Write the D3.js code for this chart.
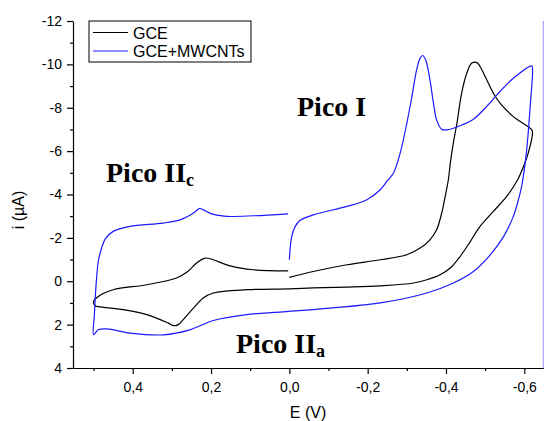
<!DOCTYPE html>
<html>
<head>
<meta charset="utf-8">
<script src="https://cdn.jsdelivr.net/npm/d3@7"></script>
<style>
  body { margin: 0; background: #fff; }
  svg { display: block; }
</style>
</head>
<body>
<svg id="chart" width="544" height="421"></svg>
<script>
// ---------- data (E in V, i in µA) ----------
const seriesNames = ["GCE", "GCE+MWCNTs"];
const seriesColors = ["#000000", "#1a1aff"];

const gceE = [0.0, -0.061, -0.147, -0.232, -0.30, -0.334, -0.359, -0.376, -0.389, -0.398, -0.406, -0.411, -0.419, -0.428, -0.440, -0.453, -0.466, -0.479, -0.487, -0.504, -0.521, -0.538, -0.572, -0.619,
  -0.621, -0.610, -0.598, -0.583, -0.555, -0.521, -0.487, -0.462, -0.436, -0.411, -0.385, -0.351, -0.317, -0.232, -0.147, -0.061, 0.0, 0.109, 0.194, 0.220, 0.245, 0.271, 0.284, 0.295, 0.309, 0.364, 0.424, 0.492, 0.496,
  0.500, 0.488, 0.450, 0.364, 0.288, 0.262, 0.237, 0.215, 0.194, 0.151, 0.092, 0.003];
const gceI = [-0.18, -0.45, -0.76, -0.99, -1.22, -1.53, -1.91, -2.37, -3.14, -3.91, -4.68, -5.45, -6.40, -7.29, -8.67, -9.59, -10.06, -10.08, -9.90, -9.29, -8.67, -8.21, -7.59, -6.98,
  -6.83, -5.91, -5.29, -4.68, -3.91, -3.22, -2.53, -1.83, -1.14, -0.61, -0.30, -0.07, 0.08, 0.21, 0.27, 0.31, 0.35, 0.39, 0.54, 0.77, 1.24, 1.77, 2.00, 2.05, 1.93, 1.54, 1.31, 1.16, 1.13,
  0.93, 0.70, 0.39, 0.16, -0.15, -0.41, -0.84, -1.07, -0.99, -0.71, -0.53, -0.48];

const mwE = [0.0, -0.006, -0.015, -0.027, -0.061, -0.147, -0.198, -0.232, -0.249, -0.266, -0.283, -0.300, -0.313, -0.325, -0.334, -0.340, -0.348, -0.359, -0.368, -0.376, -0.389, -0.402, -0.436, -0.470, -0.504, -0.538, -0.572, -0.619,
  -0.621, -0.615, -0.606, -0.594, -0.585, -0.572, -0.547, -0.513, -0.470, -0.419, -0.351, -0.232, -0.104, 0.024, 0.109, 0.194, 0.254, 0.322, 0.407, 0.466, 0.488, 0.500,
  0.498, 0.496, 0.492, 0.488, 0.480, 0.470, 0.450, 0.407, 0.322, 0.279, 0.254, 0.238, 0.229, 0.224, 0.214, 0.200, 0.185, 0.160, 0.092, 0.003];
const mwI = [-0.99, -2.06, -2.53, -2.80, -3.06, -3.45, -3.76, -4.22, -4.60, -4.99, -5.91, -7.29, -8.52, -9.75, -10.29, -10.41, -10.21, -9.29, -8.21, -7.44, -7.01, -6.98, -7.17, -7.47, -8.06, -8.75, -9.36, -9.93,
  -9.75, -8.06, -6.06, -4.45, -3.76, -2.99, -2.06, -1.22, -0.45, 0.08, 0.54, 1.00, 1.24, 1.42, 1.54, 1.81, 2.24, 2.47, 2.39, 2.20, 2.24, 2.47,
  1.60, 0.85, -0.20, -0.90, -1.50, -1.95, -2.30, -2.53, -2.68, -2.83, -3.04, -3.24, -3.36, -3.33, -3.24, -3.12, -3.05, -2.99, -3.02, -3.11];

const xMajorTicks = [0.4, 0.2, 0.0, -0.2, -0.4, -0.6];
const xMinorTicks = [0.5, 0.3, 0.1, -0.1, -0.3, -0.5];
const yMajorTicks = [-12, -10, -8, -6, -4, -2, 0, 2, 4];
const yMinorTicks = [-11, -9, -7, -5, -3, -1, 1, 3];

// ---------- layout ----------
const svg = d3.select("#chart");
const L = 73, R = 543.3, T = 21, B = 368;

const x = d3.scaleLinear().domain([0.5525, -0.6485]).range([L, R]);
const y = d3.scaleLinear().domain([-12, 4]).range([T, B]);

const fmtX = v => d3.format(".1f")(v).replace(".", ",").replace("\u2212", "-");
const fmtY = v => d3.format("d")(v).replace("\u2212", "-");

// right border (light)
svg.append("line").attr("x1", R).attr("x2", R).attr("y1", T).attr("y2", B)
  .attr("stroke", "#a4a4f0").attr("stroke-width", 1.2);

// curves
const line = d3.line().x(d => x(d[0])).y(d => y(d[1])).curve(d3.curveCatmullRom.alpha(0.5));
const gceData = gceE.map((e, k) => [e, gceI[k]]);
const mwData = mwE.map((e, k) => [e, mwI[k]]);
[gceData, mwData].forEach((d, k) => {
  svg.append("path").datum(d).attr("d", line)
    .attr("fill", "none").attr("stroke", seriesColors[k]).attr("stroke-width", 1.2);
});

// axes
svg.append("g").attr("transform", `translate(0,${B})`)
  .call(d3.axisBottom(x).tickValues(xMajorTicks).tickFormat(fmtX).tickSize(6).tickPadding(8).tickSizeOuter(0));
svg.append("g").attr("transform", `translate(0,${B})`)
  .call(d3.axisBottom(x).tickValues(xMinorTicks).tickFormat("").tickSize(3).tickSizeOuter(0))
  .select(".domain").remove();
svg.append("g").attr("transform", `translate(${L},0)`)
  .call(d3.axisLeft(y).tickValues(yMajorTicks).tickFormat(fmtY).tickSize(6).tickPadding(5).tickSizeOuter(0));
svg.append("g").attr("transform", `translate(${L},0)`)
  .call(d3.axisLeft(y).tickValues(yMinorTicks).tickFormat("").tickSize(3).tickSizeOuter(0))
  .select(".domain").remove();

svg.selectAll(".tick text").attr("font-family", "'Liberation Sans', Arial, sans-serif")
  .attr("font-size", 14).attr("fill", "#000");
svg.selectAll(".domain, .tick line").attr("stroke", "#000").attr("stroke-width", 1.2);

// axis titles
svg.append("text").attr("x", 308).attr("y", 418).attr("text-anchor", "middle")
  .attr("font-family", "'Liberation Sans', Arial, sans-serif").attr("font-size", 16)
  .text("E (V)");
svg.append("text").attr("transform", "translate(24,210) rotate(-90)").attr("text-anchor", "middle")
  .attr("font-family", "'Liberation Sans', Arial, sans-serif").attr("font-size", 16)
  .text("i (\u00b5A)");

// legend
const lg = svg.append("g");
lg.append("rect").attr("x", 89).attr("y", 21).attr("width", 162).attr("height", 41)
  .attr("fill", "#fff").attr("stroke", "#000").attr("stroke-width", 1);
seriesNames.forEach((name, k) => {
  const yy = 32.5 + k * 18.5;
  lg.append("line").attr("x1", 93).attr("x2", 128).attr("y1", yy).attr("y2", yy)
    .attr("stroke", seriesColors[k]).attr("stroke-width", 1.2);
  lg.append("text").attr("x", 133).attr("y", yy + 6).attr("font-size", 16)
    .attr("font-family", "'Liberation Sans', Arial, sans-serif").text(name);
});

// annotations
const annots = [
  { x: 106, y: 182, main: "Pico II", sub: "c" },
  { x: 297, y: 116, main: "Pico I", sub: "" },
  { x: 236, y: 353, main: "Pico II", sub: "a" }
];
annots.forEach(a => {
  const t = svg.append("text").attr("x", a.x).attr("y", a.y)
    .attr("font-family", "'Liberation Serif', 'Times New Roman', serif")
    .attr("font-weight", "bold").attr("font-size", 28).text(a.main);
  if (a.sub) t.append("tspan").attr("font-size", 18).attr("dy", 4).text(a.sub);
});
</script>
</body>
</html>
